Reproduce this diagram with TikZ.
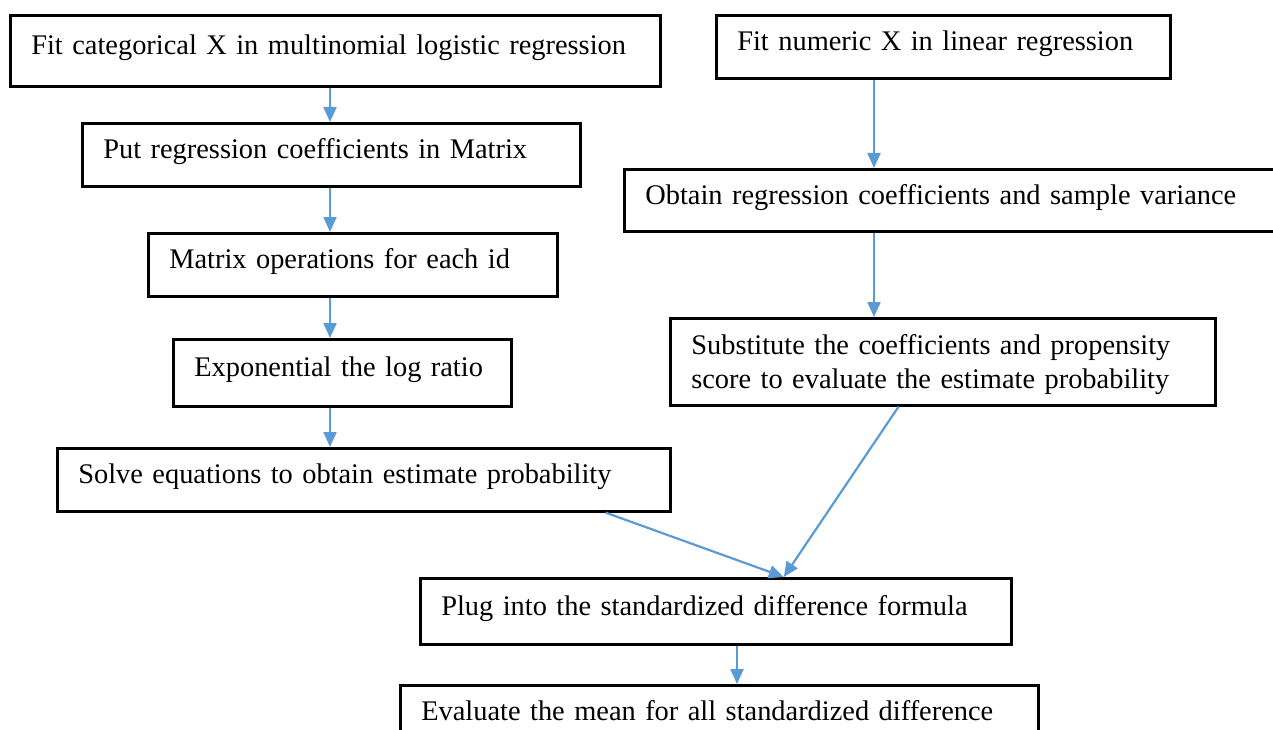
\documentclass[tikz,border=0pt]{standalone}
\usepackage{fontspec}
\setmainfont{Liberation Serif}
\usetikzlibrary{arrows.meta}
\definecolor{linkblue}{HTML}{5B9BD5}

\begin{document}
\begin{tikzpicture}[x=1pt,y=-1pt,
  flow/.style={-{Triangle[width=13pt,length=15pt]},draw=linkblue,fill=linkblue,line width=2.2pt},
  stepbox/.style={draw,rectangle,line width=2.6pt,anchor=north west,align=left,
    inner xsep=21pt,inner ysep=0pt,text depth=12pt,font=\fontsize{28.4}{34}\selectfont}]
      \clip (0,0) rectangle (1273,730);

      % left column
      \node[stepbox,text width=608pt,minimum height=71pt] (A1) at (9,14) {Fit categorical X in multinomial logistic regression};
      \node[stepbox,text width=456pt,minimum height=63pt] (A2) at (81,122) {Put regression coefficients in Matrix};
      \node[stepbox,text width=367pt,minimum height=63pt] (A3) at (147,232) {Matrix operations for each id};
      \node[stepbox,text width=296pt,minimum height=67pt] (A4) at (172,338) {Exponential the log ratio};
      \node[stepbox,text width=571pt,minimum height=63pt] (A5) at (56,447) {Solve equations to obtain estimate probability};

      % right column
      \node[stepbox,text width=412pt,minimum height=63pt] (B1) at (715,14) {Fit numeric X in linear regression};
      \node[stepbox,text width=638pt,minimum height=62pt] (B2) at (623,168) {Obtain regression coefficients and sample variance};
      \node[stepbox,text width=503pt,minimum height=87pt,text depth=34pt] (B3) at (669,317) {Substitute the coefficients and propensity\\score to evaluate the estimate probability};

      % bottom
      \node[stepbox,text width=549pt,minimum height=66pt] (C1) at (419,577) {Plug into the standardized difference formula};
      \node[stepbox,text width=596pt,minimum height=63pt] (C2) at (399,684) {Evaluate the mean for all standardized difference};

      \coordinate (lx) at (330,0);
      \coordinate (rx) at (874,0);
      \coordinate (cx) at (737,0);

      \draw[flow] (A1.south -| lx) -- (A2.north -| lx);
      \draw[flow] (A2.south -| lx) -- (A3.north -| lx);
      \draw[flow] (A3.south -| lx) -- (A4.north -| lx);
      \draw[flow] (A4.south -| lx) -- (A5.north -| lx);
      \draw[flow] (B1.south -| rx) -- (B2.north -| rx);
      \draw[flow] (B2.south -| rx) -- (B3.north -| rx);
      \draw[flow] ([xshift=-66pt]A5.south east) -- ([xshift=68pt]C1.north);
      \draw[flow] ([xshift=-318pt]B3.south east) -- ([xshift=68pt]C1.north);
      \draw[flow] (C1.south -| cx) -- (C2.north -| cx);

    \end{tikzpicture}
\end{document}
